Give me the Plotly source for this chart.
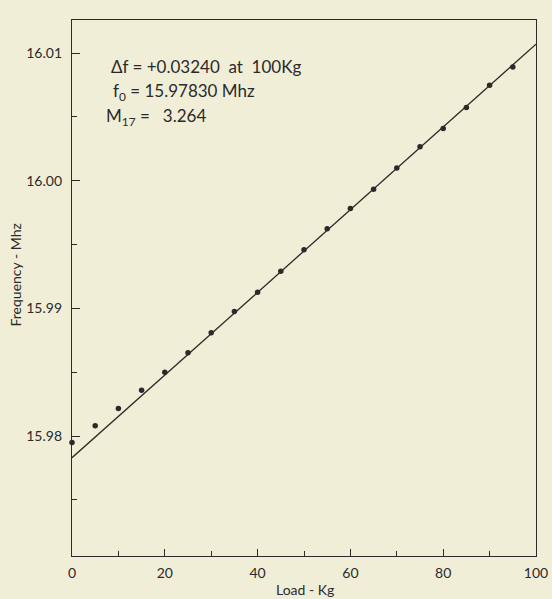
import plotly.graph_objects as go

load_kg = [0, 5, 10, 15, 20, 25, 30, 35, 40, 45, 50, 55, 60, 65, 70, 75, 80, 85, 90, 95]
freq_mhz = [15.9795, 15.9808, 15.98215, 15.98359, 15.9850, 15.98652, 15.9881, 15.98976,
            15.99126, 15.99292, 15.99459, 15.99625, 15.99783, 15.99933, 16.0010, 16.00266,
            16.00409, 16.00575, 16.00749, 16.00891]

fit_f0 = 15.97830
fit_delta_100 = 0.03240
fit_x = [0, 100]
fit_y = [fit_f0, fit_f0 + fit_delta_100]

x_ticks = [0, 20, 40, 60, 80, 100]
x_ticklabels = ["0", "20", "40", "60", "80", "100"]
y_ticks = [15.98, 15.99, 16.00, 16.01]
y_ticklabels = ["15.98", "15.99", "16.00", "16.01"]

ink = "#2a2a2a"
paper = "#f1eed8"
font = "Lato"

fig = go.Figure()
fig.add_trace(go.Scatter(x=fit_x, y=fit_y, mode="lines",
                         line=dict(color=ink, width=1.3), hoverinfo="skip"))
fig.add_trace(go.Scatter(x=load_kg, y=freq_mhz, mode="markers",
                         marker=dict(color=ink, size=5.5), cliponaxis=False))

fig.update_layout(
    width=552, height=599,
    margin=dict(l=72, r=16, t=20, b=43),
    paper_bgcolor=paper, plot_bgcolor=paper,
    showlegend=False,
    font=dict(family=font, size=14, color=ink),
    xaxis=dict(range=[0, 100], tickvals=x_ticks, ticktext=x_ticklabels,
               ticks="inside", ticklen=7, tickwidth=1.2, tickcolor=ink,
               minor=dict(dtick=10, tick0=0, ticks="inside", ticklen=5, tickcolor=ink, tickwidth=1.2),
               showline=True, linecolor=ink, linewidth=1.3, mirror=True,
               showgrid=False, zeroline=False, ticklabelstandoff=4, automargin=False,
               tickfont=dict(size=14)),
    yaxis=dict(range=[15.9706, 16.0126], tickvals=y_ticks, ticktext=y_ticklabels,
               ticks="inside", ticklen=8, tickwidth=1.2, tickcolor=ink,
               minor=dict(dtick=0.01, tick0=15.975, ticks="inside", ticklen=5, tickcolor=ink, tickwidth=1.2),
               showline=True, linecolor=ink, linewidth=1.3, mirror=True,
               showgrid=False, zeroline=False, ticklabelstandoff=6, automargin=False,
               tickfont=dict(size=14)),
)

ann = dict(xref="paper", yref="paper", showarrow=False, xanchor="left", yanchor="middle",
           font=dict(family=font, size=17, color=ink))
fig.add_annotation(x=0.080, y=0.914, text="Δf = +0.03240  at  100Kg", **ann)
fig.add_annotation(x=0.084, y=0.866, text="f<sub>0</sub> = 15.97830 Mhz", **ann)
fig.add_annotation(x=0.069, y=0.819, text="M<sub>17</sub> =   3.264", **ann)

fig.add_annotation(xref="paper", yref="paper", x=0.502, y=-0.063, text="Load - Kg",
                   showarrow=False, xanchor="center", yanchor="middle",
                   font=dict(family=font, size=14, color=ink))
fig.add_annotation(xref="paper", yref="paper", x=-0.122, y=0.524, text="Frequency - Mhz",
                   showarrow=False, xanchor="center", yanchor="middle", textangle=-90,
                   font=dict(family=font, size=14, color=ink))

fig.write_html("out.html", config={"displayModeBar": False},
               post_script="document.body.style.margin='0';document.body.style.overflow='hidden';document.body.style.background='" + paper + "';")
